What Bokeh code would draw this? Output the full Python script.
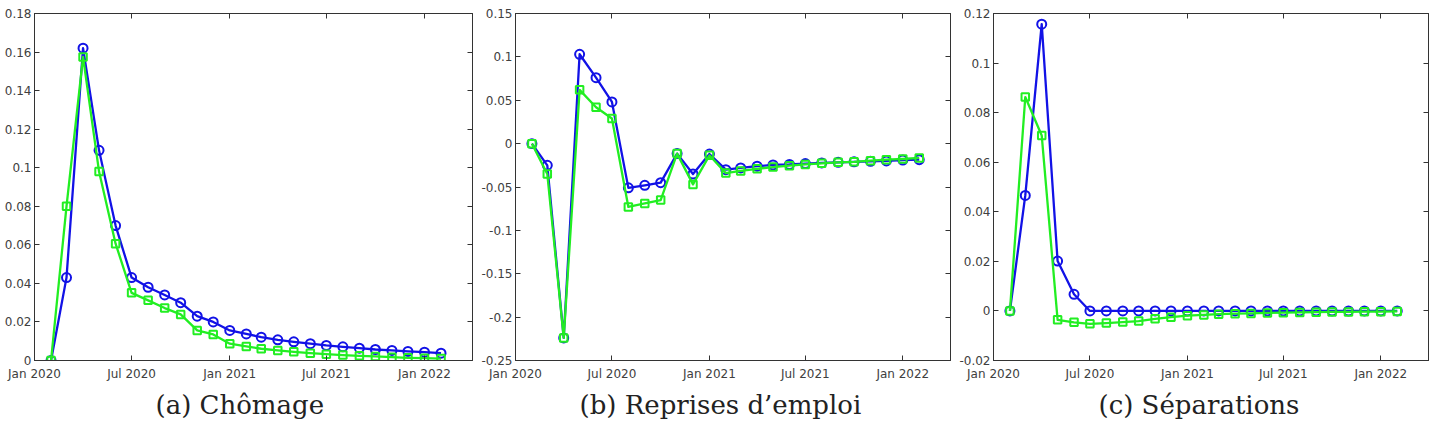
import pandas as pd
from bokeh.plotting import figure
from bokeh.layouts import row
from bokeh.models import (FixedTicker, CustomJSTickFormatter, LinearAxis, Title, Range1d)
from bokeh.embed import file_html
from bokeh.resources import INLINE

# ---- data -------------------------------------------------------------
months = ["2020-02", "2020-03", "2020-04", "2020-05", "2020-06", "2020-07",
          "2020-08", "2020-09", "2020-10", "2020-11", "2020-12", "2021-01",
          "2021-02", "2021-03", "2021-04", "2021-05", "2021-06", "2021-07",
          "2021-08", "2021-09", "2021-10", "2021-11", "2021-12", "2022-01",
          "2022-02"]

chomage_blue = [0.0, 0.043, 0.162, 0.109, 0.070, 0.043, 0.038, 0.034, 0.030,
                0.023, 0.020, 0.0156, 0.0138, 0.0121, 0.0107, 0.0097, 0.0087,
                0.0078, 0.0071, 0.0064, 0.0057, 0.0052, 0.0047, 0.0043, 0.0038]
chomage_green = [0.0, 0.080, 0.1575, 0.098, 0.0606, 0.0351, 0.0312, 0.0272,
                 0.0239, 0.0156, 0.0135, 0.0087, 0.0073, 0.0061, 0.0052,
                 0.0045, 0.0038, 0.0033, 0.0028, 0.0024, 0.0021, 0.0017,
                 0.0014, 0.0012, 0.0010]

reprises_blue = [0.0, -0.025, -0.224, 0.103, 0.076, 0.048, -0.051, -0.048,
                 -0.045, -0.0115, -0.035, -0.012, -0.030, -0.028, -0.026,
                 -0.0246, -0.024, -0.023, -0.0223, -0.0215, -0.021, -0.0204,
                 -0.020, -0.019, -0.0185]
reprises_green = [0.0, -0.035, -0.224, 0.062, 0.042, 0.029, -0.073, -0.069,
                  -0.065, -0.0115, -0.047, -0.0135, -0.034, -0.0315, -0.029,
                  -0.027, -0.0254, -0.024, -0.0227, -0.0215, -0.021, -0.0196,
                  -0.0185, -0.0177, -0.0165]

separations_blue = [0.0, 0.0466, 0.1157, 0.0201, 0.0067, 0.0, 0.0, 0.0, 0.0,
                    0.0, 0.0, 0.0, 0.0, 0.0, 0.0, 0.0, 0.0, 0.0, 0.0, 0.0,
                    0.0, 0.0, 0.0, 0.0, 0.0]
separations_green = [0.0, 0.0863, 0.0708, -0.0036, -0.0046, -0.0052, -0.0049,
                     -0.0045, -0.0041, -0.0032, -0.0025, -0.0019, -0.0016,
                     -0.0013, -0.0011, -0.0010, -0.0008, -0.0007, -0.0006,
                     -0.0005, -0.0004, -0.0004, -0.0003, -0.0003, -0.0002]

tick_dates = ["2020-01-01", "2020-07-01", "2021-01-01", "2021-07-01", "2022-01-01"]
tick_labels = ["Jan 2020", "Jul 2020", "Jan 2021", "Jul 2021", "Jan 2022"]

captions = ["(a) Chômage", "(b) Reprises d\u2019emploi", "(c) Séparations"]
y_limits = [(0.0, 0.18), (-0.25, 0.15), (-0.02, 0.12)]
y_ticks = [[0, 0.02, 0.04, 0.06, 0.08, 0.1, 0.12, 0.14, 0.16, 0.18],
           [-0.25, -0.2, -0.15, -0.1, -0.05, 0, 0.05, 0.1, 0.15],
           [-0.02, 0, 0.02, 0.04, 0.06, 0.08, 0.1, 0.12]]
series = [(chomage_blue, chomage_green),
          (reprises_blue, reprises_green),
          (separations_blue, separations_green)]
caption_offsets = [121, 64, 105]

# ---- styling ---------------------------------------------------------
BLUE = "#1212e6"
GREEN = "#22ee22"
AX = "#333333"
FONT = "DejaVu Sans"


def ms(d):
    return pd.Timestamp(d).value / 1e6


x = [pd.Timestamp(m + "-01") for m in months]
xticks = [ms(d) for d in tick_dates]
overrides = {t: lab for t, lab in zip(xticks, tick_labels)}
yfmt = CustomJSTickFormatter(code="return String(parseFloat(tick.toFixed(4)));")
empty = CustomJSTickFormatter(code="return '';")


def style_axis(ax):
    ax.axis_line_color = AX
    ax.axis_line_width = 1
    ax.major_tick_line_color = AX
    ax.major_tick_in = 5
    ax.major_tick_out = 0
    ax.minor_tick_in = 0
    ax.minor_tick_out = 0
    ax.major_label_text_font = FONT
    ax.major_label_text_font_size = "12px"
    ax.major_label_text_color = "#404040"


def make_panel(i):
    blue, green = series[i]
    lo, hi = y_limits[i]
    p = figure(width=478, height=425, x_axis_type="datetime",
               output_backend="svg", toolbar_location=None,
               x_range=Range1d(ms("2020-01-01"), ms("2022-04-01")),
               y_range=Range1d(lo, hi),
               min_border_left=34, min_border_right=6,
               min_border_top=13, min_border_bottom=65,
               background_fill_color="white", border_fill_color="white")
    p.xgrid.visible = False
    p.ygrid.visible = False
    p.outline_line_color = AX
    p.outline_line_width = 1

    p.xaxis.ticker = FixedTicker(ticks=xticks)
    p.xaxis.major_label_overrides = overrides
    p.xaxis.major_label_standoff = 6
    p.yaxis.ticker = FixedTicker(ticks=y_ticks[i])
    p.yaxis.formatter = yfmt
    p.yaxis.major_label_standoff = 3
    for ax in p.axis:
        style_axis(ax)

    right = LinearAxis(ticker=FixedTicker(ticks=y_ticks[i]), formatter=empty,
                       major_label_standoff=0)
    style_axis(right)
    right.major_label_text_font_size = "1px"
    p.add_layout(right, "right")
    top = LinearAxis(ticker=FixedTicker(ticks=xticks), formatter=empty,
                     major_label_standoff=0)
    style_axis(top)
    top.major_label_text_font_size = "1px"
    p.add_layout(top, "above")

    p.line(x, blue, line_color=BLUE, line_width=2.3, line_join="round")
    p.scatter(x, blue, marker="circle", size=9, fill_color=None,
              line_color=BLUE, line_width=2)
    p.line(x, green, line_color=GREEN, line_width=2.3, line_join="round")
    p.scatter(x, green, marker="square", size=7.5, fill_color=None,
              line_color=GREEN, line_width=2)

    t = Title(text=captions[i], align="left", offset=caption_offsets[i],
              text_font="DejaVu Serif", text_font_size="26px",
              text_font_style="normal", text_color="#222222", standoff=8)
    p.add_layout(t, "below")
    return p


layout = row(*[make_panel(i) for i in range(3)])
open("out.html", "w").write(file_html(layout, INLINE))
